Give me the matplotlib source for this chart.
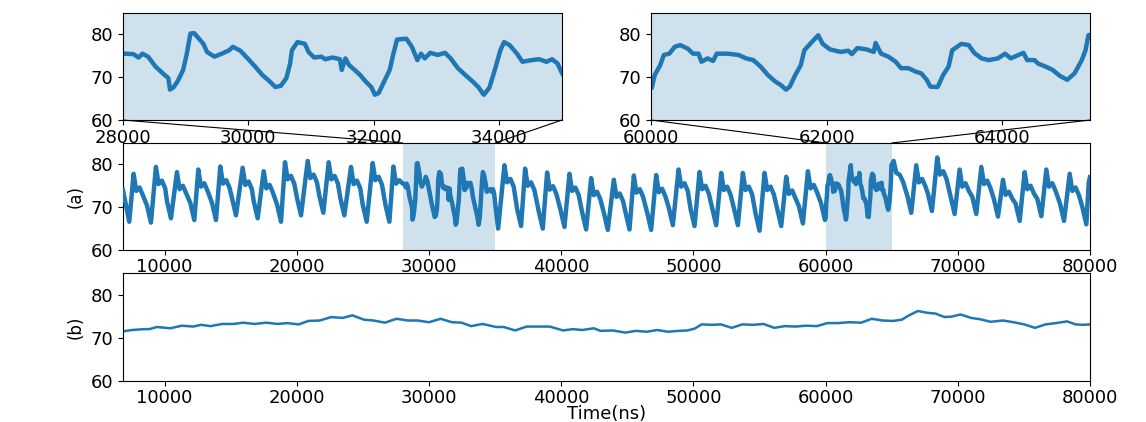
import matplotlib
matplotlib.use("Agg")
import matplotlib.pyplot as plt
from matplotlib.patches import ConnectionPatch

# (a) raw signal, keypoints (time ns, value)
t_a = [
    6850, 7326, 7654, 7854, 8104, 8354, 8666, 8966,
    9344, 9544, 9794, 10044, 10180, 10480,
    10934, 11134, 11384, 11634, 11946, 12246,
    12549, 12749, 12999, 13249, 13586, 13886,
    14214, 14414, 14664, 14914, 15100, 15400,
    15904, 16104, 16354, 16604, 16740, 17040,
    17494, 17694, 17944, 18194, 18506, 18806,
    19108, 19308, 19558, 19808, 20020, 20320,
    20824, 21024, 21274, 21524, 21707, 22007,
    22411, 22611, 22861, 23111, 23297, 23597,
    24101, 24301, 24551, 24801, 24987, 25287,
    25741, 25941, 26191, 26441, 26703, 27003,
    27307, 27507, 27757,
    28018, 28165, 28250, 28310, 28400, 28518, 28635, 28723, 28750, 28810,
    28870, 28960, 29018, 29076, 29135, 29223, 29282, 29340, 29458, 29576,
    29694, 29753, 29870, 29988, 30106, 30224, 30341, 30430, 30518, 30606,
    30665, 30694, 30782, 30900, 30959, 31047, 31165, 31224, 31341, 31459,
    31488, 31547, 31606, 31694, 31782, 31870, 31959, 32018, 32076, 32165,
    32253, 32312, 32370, 32518, 32606, 32694, 32753, 32812, 32900, 33018,
    33135, 33224, 33341, 33459, 33576, 33665, 33753, 33841, 33929, 34018,
    34076, 34165, 34282, 34370, 34518, 34635, 34753, 34841, 34929, 34988,
    35230, 35707, 35907, 36157, 36407, 36667, 36967,
    37270, 37470, 37720, 37970, 38307, 38607,
    38935, 39135, 39385, 39635, 39947, 40247,
    40626, 40826, 41076, 41326, 41587, 41887,
    42266, 42466, 42716, 42966, 43227, 43527,
    43981, 44181, 44431, 44681, 44867, 45167,
    45495, 45695, 45945, 46195, 46507, 46807,
    47185, 47385, 47635, 47885, 48147, 48447,
    48876, 49076, 49326, 49576, 49787, 50087,
    50465, 50665, 50915, 51165, 51425, 51725,
    52104, 52304, 52554, 52804, 53065, 53365,
    53744, 53944, 54194, 54444, 54705, 55005,
    55384, 55584, 55834, 56084, 56345, 56645,
    57024, 57224, 57474, 57724, 57985, 58285,
    58664, 58864, 59114, 59364, 59650, 59950,
    60008, 60042, 60104, 60146, 60208, 60270, 60333, 60416, 60478, 60541,
    60574, 60644, 60707, 60748, 60873, 60998, 61081, 61164, 61247, 61331,
    61414, 61476, 61538, 61580, 61642, 61705, 61746, 61830, 61904, 61954,
    62037, 62162, 62245, 62287, 62349, 62453, 62536, 62557, 62620, 62703,
    62786, 62848, 62931, 63015, 63077, 63139, 63181, 63264, 63326, 63389,
    63430, 63534, 63617, 63680, 63763, 63846, 63950, 64033, 64096, 64241,
    64283, 64366, 64407, 64491, 64574, 64657, 64740, 64823, 64906, 64948,
    64981,
    65150, 65350, 65600, 65850, 66182, 66482,
    66861, 67061, 67311, 67561, 67746, 68046,
    68450, 68650, 68900, 69150, 69462, 69762,
    70141, 70341, 70591, 70841, 71102, 71402,
    71781, 71981, 72231, 72481, 72742, 73042,
    73420, 73620, 73870, 74120, 74382, 74682,
    75060, 75260, 75510, 75760, 76022, 76322,
    76700, 76900, 77150, 77400, 77738, 78038,
    78466, 78666, 78916, 79166, 79428, 79728,
    79905, 80000,
]
v_a = [
    74.0, 66.6, 77.8, 73.8, 74.6, 72.8, 70.4, 66.4,
    79.4, 75.4, 76.2, 74.4, 71.4, 67.4,
    78.2, 74.2, 75.0, 73.2, 71.0, 67.0,
    78.8, 74.8, 75.6, 73.8, 71.0, 67.0,
    79.5, 75.5, 76.3, 74.5, 72.1, 68.1,
    79.2, 75.2, 76.0, 74.2, 71.4, 67.4,
    78.4, 74.4, 75.2, 73.4, 70.6, 66.6,
    80.5, 76.5, 77.3, 75.5, 72.1, 68.1,
    80.8, 76.8, 77.6, 75.8, 72.7, 68.7,
    80.5, 76.5, 77.3, 75.5, 72.1, 68.1,
    79.4, 75.4, 76.2, 74.4, 70.6, 66.6,
    80.3, 76.3, 77.1, 75.3, 70.6, 66.6,
    79.5, 75.5, 76.3,
    75.5, 75.4, 74.6, 75.5, 74.8, 72.5, 70.9, 69.8, 67.1, 67.7,
    69.0, 71.7, 75.5, 80.2, 80.3, 78.8, 77.8, 75.9, 74.8, 75.5,
    76.3, 77.1, 76.2, 74.4, 72.5, 70.5, 69.0, 67.7, 68.0, 69.8,
    73.2, 76.3, 78.2, 77.8, 75.9, 74.6, 74.8, 74.2, 74.6, 74.2,
    71.7, 74.4, 72.8, 71.7, 70.5, 69.0, 67.7, 65.9, 66.3, 69.0,
    71.7, 75.5, 78.8, 79.0, 77.1, 74.0, 75.5, 74.4, 75.7, 75.2,
    75.7, 74.4, 72.1, 70.5, 69.0, 67.7, 65.9, 67.5, 71.7, 76.3,
    78.2, 77.5, 75.5, 73.6, 74.0, 74.2, 73.6, 74.2, 73.2, 71.3,
    65.0, 79.8, 75.8, 76.6, 74.8, 69.6, 65.6,
    79.0, 75.0, 75.8, 74.0, 69.0, 65.0,
    78.1, 74.1, 74.9, 73.1, 69.4, 65.4,
    77.8, 73.8, 74.6, 72.8, 68.8, 64.8,
    76.8, 72.8, 73.6, 71.8, 68.7, 64.7,
    76.4, 72.4, 73.2, 71.4, 68.8, 64.8,
    77.4, 73.4, 74.2, 72.4, 68.7, 64.7,
    77.5, 73.5, 74.3, 72.5, 69.8, 65.8,
    78.8, 74.8, 75.6, 73.8, 69.6, 65.6,
    78.2, 74.2, 75.0, 73.2, 69.8, 65.8,
    78.0, 74.0, 74.8, 73.0, 69.8, 65.8,
    78.0, 74.0, 74.8, 73.0, 68.5, 64.5,
    78.0, 74.0, 74.8, 73.0, 69.6, 65.6,
    77.1, 73.1, 73.9, 72.1, 70.2, 66.2,
    78.4, 74.4, 75.2, 73.4, 71.0, 67.0,
    67.5, 70.5, 72.8, 75.2, 75.5, 77.1, 77.5, 76.7, 75.5, 75.5,
    73.6, 74.4, 73.8, 75.5, 75.5, 75.2, 74.4, 74.0, 72.5, 70.5,
    69.0, 68.2, 67.1, 67.8, 70.5, 72.8, 76.3, 78.2, 79.8, 77.8,
    76.5, 75.9, 76.2, 75.4, 76.8, 76.5, 75.9, 78.0, 75.5, 74.8,
    73.6, 72.1, 72.1, 71.3, 70.9, 69.4, 67.8, 67.7, 70.5, 72.5,
    76.3, 77.8, 77.5, 75.7, 74.4, 74.0, 74.4, 75.5, 74.4, 75.7,
    74.0, 74.0, 73.2, 72.5, 71.7, 70.3, 69.4, 70.9, 74.0, 76.3,
    79.8,
    80.8, 78.0, 77.6, 76.0, 72.7, 68.7,
    79.8, 75.8, 76.6, 74.8, 73.1, 69.1,
    81.6, 77.6, 78.4, 76.6, 72.4, 68.4,
    78.8, 74.8, 75.6, 73.8, 72.4, 68.4,
    79.4, 75.4, 76.2, 74.4, 71.8, 67.8,
    76.4, 72.9, 73.6, 72.0, 70.8, 66.8,
    78.2, 74.2, 75.0, 73.2, 71.9, 67.9,
    78.8, 74.8, 75.6, 73.8, 70.8, 66.8,
    77.8, 73.8, 74.6, 72.8, 70.0, 66.0,
    75.7, 77.0,
]

# (b) smoothed signal
t_b = [
    6850, 7536, 8406, 8841, 9420, 10435, 11304, 12174, 12754, 13478,
    14348, 15217, 15942, 16812, 17681, 18551, 19275, 20145, 20870, 21739,
    22609, 23478, 24203, 25072, 25797, 26667, 27536, 28406, 29130, 30000,
    30870, 31739, 32464, 33188, 34058, 35072, 35652, 36522, 37391, 38261,
    39130, 40145, 40870, 41594, 42464, 42970, 43909, 44848, 45653, 46458,
    47263, 48068, 48873, 49544, 50080, 50617, 51422, 52093, 52898, 53703,
    54508, 55313, 56118, 56922, 57727, 58532, 59337, 60142, 60947, 61752,
    62691, 63496, 64301, 65106, 65777, 66313, 66984, 67655, 68326, 68997,
    69533, 70204, 71009, 71680, 72485, 73424, 74229, 75034, 75839, 76644,
    77449, 78254, 78925, 79463, 80000,
]
v_b = [
    71.5, 71.8, 72.0, 72.0, 72.5, 72.2, 72.8, 72.6, 73.0, 72.7,
    73.2, 73.2, 73.5, 73.2, 73.5, 73.2, 73.4, 73.1, 73.9, 74.0,
    74.8, 74.6, 75.2, 74.2, 74.0, 73.5, 74.4, 74.0, 74.0, 73.6,
    74.4, 73.6, 73.5, 72.7, 73.2, 72.5, 72.5, 71.7, 72.6, 72.6,
    72.6, 71.7, 72.0, 71.8, 72.2, 71.6, 71.7, 71.2, 71.6, 71.4,
    71.8, 71.4, 71.6, 71.7, 72.1, 73.1, 73.0, 73.1, 72.3, 73.1,
    73.0, 73.2, 72.3, 72.7, 72.6, 72.8, 72.7, 73.4, 73.4, 73.6,
    73.5, 74.4, 74.0, 73.9, 74.2, 75.2, 76.2, 75.8, 75.6, 74.8,
    74.9, 75.4, 74.6, 74.3, 73.7, 74.0, 73.6, 73.1, 72.3, 73.1,
    73.4, 73.8, 73.1, 73.0, 73.1,
]

zooms = [(28000, 35000), (60000, 65000)]
zoom_ticks = [[28000, 30000, 32000, 34000], [60000, 62000, 64000]]
main_ticks = [10000, 20000, 30000, 40000, 50000, 60000, 70000, 80000]
yticks = [60, 70, 80]

blue = "#1f77b4"
shade = "#d0e1ee"
fs = 13

fig = plt.figure(figsize=(11.46, 4.22), dpi=100)
ax_a = fig.add_axes([0.1073, 0.4076, 0.8438, 0.2536])
ax_b = fig.add_axes([0.1073, 0.0972, 0.8438, 0.2559])
ins = [fig.add_axes([0.1073, 0.7156, 0.3831, 0.2536]),
       fig.add_axes([0.5681, 0.7156, 0.3831, 0.2536])]

ax_a.plot(t_a, v_a, color=blue, lw=3.2, zorder=3)
for lo, hi in zooms:
    ax_a.axvspan(lo, hi, color=shade, lw=0, zorder=1)
ax_a.set_ylabel("(a)", fontsize=fs - 1)

ax_b.plot(t_b, v_b, color=blue, lw=1.8)
ax_b.set_ylabel("(b)", fontsize=fs - 1)
ax_b.set_xlabel("Time(ns)", fontsize=fs, labelpad=-1)

for ax in (ax_a, ax_b):
    ax.set_xlim(6850, 80000)
    ax.set_ylim(60, 85)
    ax.set_xticks(main_ticks)
    ax.set_yticks(yticks)
    ax.tick_params(labelsize=fs)
    ax.tick_params(axis="x", pad=2)

for ax, (lo, hi), tk in zip(ins, zooms, zoom_ticks):
    ax.set_facecolor(shade)
    ax.plot(t_a, v_a, color=blue, lw=3.2)
    ax.set_xlim(lo, hi)
    ax.set_ylim(60, 85)
    ax.set_xticks(tk)
    ax.set_yticks(yticks)
    ax.tick_params(labelsize=fs)
    ax.tick_params(axis="x", pad=3)
    # lines from the zoom box down to the shaded span
    for x in (lo, hi):
        con = ConnectionPatch(xyA=(x, 60), coordsA=ax.transData,
                              xyB=(x, 85), coordsB=ax_a.transData,
                              color="black", lw=0.8, zorder=10)
        fig.add_artist(con)

fig.savefig("out.png", dpi=100)
plt.close(fig)
